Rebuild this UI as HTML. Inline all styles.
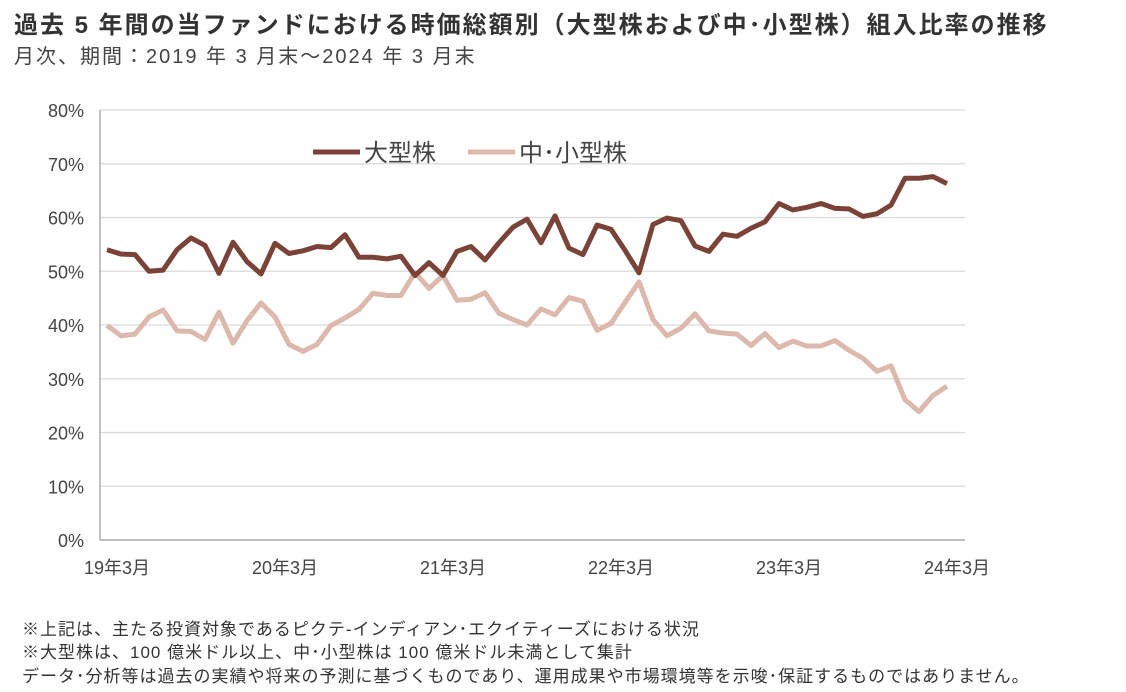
<!DOCTYPE html>
<html><head><meta charset="utf-8"><style>
body{margin:0;width:1126px;height:692px;background:#fff;overflow:hidden;font-family:"Liberation Sans","Noto Sans CJK JP",sans-serif;color:#333}
.t{position:absolute;left:14px;top:5px;font-size:24px;letter-spacing:2px;font-weight:bold;color:#333;white-space:nowrap}
.s{position:absolute;left:14px;top:40px;font-size:20px;letter-spacing:2px;color:#444;white-space:nowrap}
.n{position:absolute;left:22px;font-size:17px;letter-spacing:1px;color:#333;white-space:nowrap}
</style></head><body>
<div class="t">過去 5 年間の当ファンドにおける時価総額別（大型株および中･小型株）組入比率の推移</div>
<div class="s">月次、期間：2019 年 3 月末～2024 年 3 月末</div>
<svg id="c" width="1126" height="692" style="position:absolute;left:0;top:0"></svg>
<div class="n" style="top:615px">※上記は、主たる投資対象であるピクテ-インディアン･エクイティーズにおける状況</div>
<div class="n" style="top:638px">※大型株は、100 億米ドル以上、中･小型株は 100 億米ドル未満として集計</div>
<div class="n" style="top:662px">データ･分析等は過去の実績や将来の予測に基づくものであり、運用成果や市場環境等を示唆･保証するものではありません。</div>
<script>
const xLabels=["19年3月","20年3月","21年3月","22年3月","23年3月","24年3月"];
const yTicks=[0,10,20,30,40,50,60,70,80];
const large=[54.0,53.2,53.1,50.0,50.2,54.0,56.2,54.8,49.6,55.4,51.8,49.5,55.2,53.3,53.8,54.6,54.4,56.8,52.6,52.6,52.3,52.8,49.2,51.6,49.2,53.7,54.6,52.1,55.3,58.2,59.7,55.3,60.3,54.3,53.1,58.6,57.8,53.9,49.7,58.7,59.9,59.4,54.7,53.7,56.9,56.5,58.0,59.2,62.6,61.4,61.9,62.6,61.7,61.6,60.2,60.7,62.3,67.3,67.3,67.6,66.3];
const small=[39.9,38.0,38.3,41.5,42.8,38.9,38.8,37.3,42.4,36.6,40.8,44.1,41.5,36.4,35.1,36.4,39.9,41.3,42.9,45.9,45.5,45.5,49.8,46.8,49.2,44.6,44.8,46.0,42.2,41.0,40.0,43.0,41.9,45.1,44.4,39.0,40.3,44.2,48.0,41.0,38.0,39.4,42.1,38.9,38.5,38.3,36.2,38.4,35.8,37.0,36.1,36.1,37.1,35.3,33.8,31.4,32.4,26.1,23.9,26.9,28.6];
const NS="http://www.w3.org/2000/svg",svg=document.getElementById('c');
const X=i=>107+i*(840/60), Y=v=>540-v*(430/80);
function mk(t,a){const e=document.createElementNS(NS,t);for(const k in a)e.setAttribute(k,a[k]);svg.appendChild(e);return e;}
yTicks.forEach(v=>{
 if(v>0){const g=mk('line',{x1:100,x2:965,y1:Y(v),y2:Y(v),stroke:'#d9d9d9','stroke-width':1.2});
 
 }
 const t=mk('text',{x:84,y:Y(v)+7,'text-anchor':'end','font-size':18,fill:'#444'});t.textContent=v+'%';
 
 
});
const ax=mk('line',{x1:100,x2:100,y1:Y(80),y2:540,stroke:'#999','stroke-width':1.2});


const bx=mk('line',{x1:100,x2:965,y1:540,y2:540,stroke:'#999','stroke-width':1.2});


xLabels.forEach((l,k)=>{const t=mk('text',{x:X(k*12)+10,y:574,'text-anchor':'middle','font-size':18,fill:'#444'});t.textContent=l;
 
 });
function series(d,col,name){const p=mk('polyline',{points:d.map((v,i)=>X(i)+','+Y(v)).join(' '),fill:'none',stroke:col,'stroke-width':5,'stroke-linejoin':'round'});
 
 }
series(small,'#dcb8ad','series-small-mid-cap');
series(large,'#7b4338','series-large-cap');
const l1=mk('line',{x1:313,x2:360,y1:152,y2:152,stroke:'#7b4338','stroke-width':5});


const t1=mk('text',{x:364,y:161,'font-size':24,fill:'#444'});t1.textContent='大型株';


const l2=mk('line',{x1:468,x2:515,y1:152,y2:152,stroke:'#dcb8ad','stroke-width':5});


const t2=mk('text',{x:519,y:161,'font-size':24,fill:'#444'});t2.textContent='中･小型株';


</script>
</body></html>
